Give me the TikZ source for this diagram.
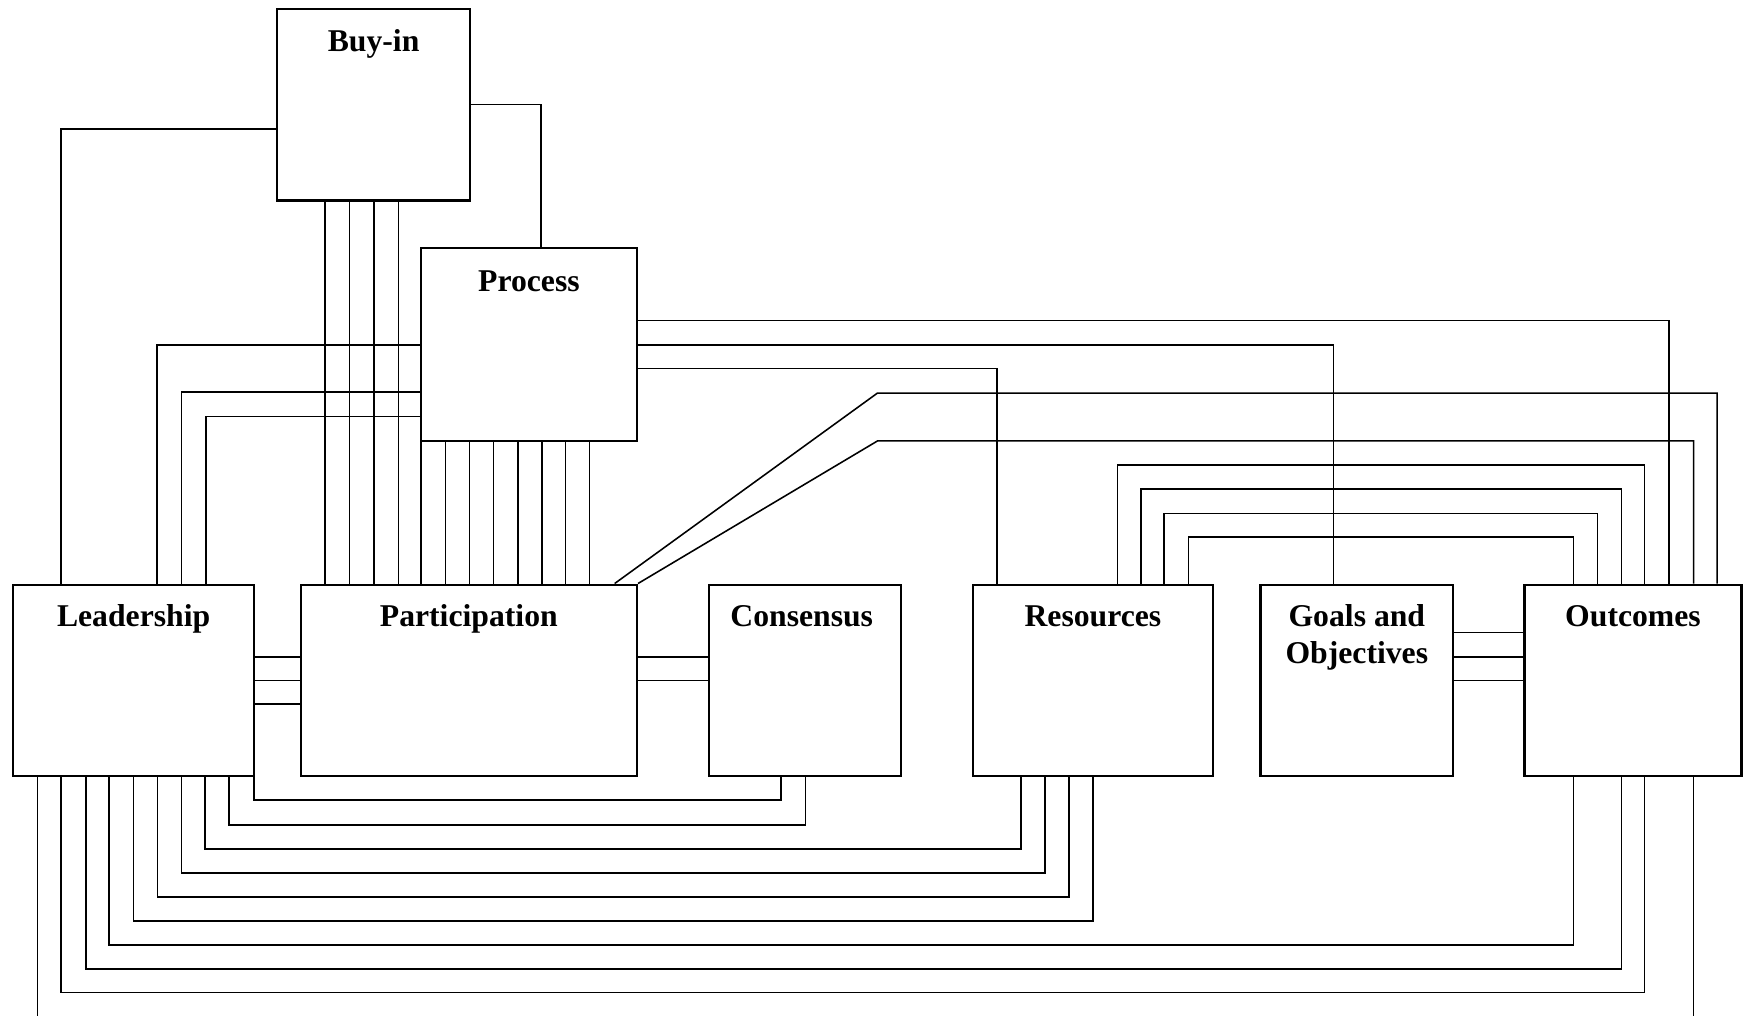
\documentclass[tikz,border=0pt]{standalone}
\usepackage{fontspec}
\setmainfont{Liberation Serif}
\usetikzlibrary{fit}
\tikzset{
  box/.style={draw, line width=1.1pt, inner sep=0pt},
  link/.style={line width=0.8pt},
  lbl/.style={font=\fontsize{16.2}{18.7}\selectfont\bfseries, anchor=base, inner sep=0pt},
}
\begin{document}
\begin{tikzpicture}[x=0.02cm, y=-0.02cm]
\useasboundingbox (0,0) rectangle (1568,912);

% the eight boxes
\node[box, fit={(249,8) (422,180)}] (buy) {};
\node[box, fit={(378,223) (572,396)}] (proc) {};
\node[box, fit={(12,525) (228,697)}] (lead) {};
\node[box, fit={(270,525) (572,697)}] (part) {};
\node[box, fit={(637,525) (809,697)}] (cons) {};
\node[box, fit={(874,525) (1089,697)}] (res) {};
\node[box, fit={(1132,525) (1305,697)}] (goal) {};
\node[box, fit={(1369,525) (1564,697)}] (out) {};

% titles
\node[lbl] (buyT)  at ([yshift=-0.78cm]buy.north)  {Buy-in};
\node[lbl] (procT) at ([yshift=-0.79cm]proc.north) {Process};
\node[lbl] (leadT) at ([yshift=-0.78cm]lead.north) {Leadership};
\node[lbl] (partT) at ([yshift=-0.78cm]part.north) {Participation};
\node[lbl] (consT) at ([yshift=-0.78cm,xshift=-0.06cm]cons.north) {Consensus};
\node[lbl] (resT)  at ([yshift=-0.78cm]res.north)  {Resources};
\node[lbl] (goalT1) at ([yshift=-0.77cm]goal.north) {Goals and};
\node[lbl] (goalT2) at ([yshift=-1.44cm]goal.north) {Objectives};
\node[lbl] (outT)  at ([yshift=-0.78cm]out.north)  {Outcomes};

% loose ends running off the bottom
\coordinate (leadEnd) at (33.5,912);
\coordinate (outEnd) at (1521,912);

\begin{scope}[link]
% Buy-in
\draw (buy.west |- 0,116) -| (lead.north -| 55,0);
\draw (buy.east |- 0,94) -| (proc.north -| 486,0);
\foreach \x in {292,314,336,358}
  \draw (buy.south -| \x,0) -- (part.north -| \x,0);

% Process
\foreach \x in {378,400,421.5,443,465,486.5,508,529.5}
  \draw (proc.south -| \x,0) -- (part.north -| \x,0);
\foreach \y/\x in {310/141,352/163,374/185}
  \draw (proc.west |- 0,\y) -| (lead.north -| \x,0);
\draw (proc.east |- 0,288) -| (out.north -| 1499,0);
\draw (proc.east |- 0,310) -| (goal.north -| 1197.5,0);
\draw (proc.east |- 0,331) -| (res.north -| 895.5,0);

% Participation to Outcomes
\draw (part.north -| 552,0) -- (788,353) -| (out.north -| 1542,0);
\draw (part.north east) -- (788,396) -| (out.north -| 1521,0);

% Resources to Outcomes
\foreach \a/\y/\b in {1003.5/417.5/1477,1024.5/439/1456,1045.5/461/1434.5,1067.5/482/1413}
  \draw (res.north -| \a,0) -- (\a,\y) -- (\b,\y) -- (out.north -| \b,0);

% side links
\foreach \y in {590,611,632}
  \draw (lead.east |- 0,\y) -- (part.west |- 0,\y);
\foreach \y in {590,611}
  \draw (part.east |- 0,\y) -- (cons.west |- 0,\y);
\foreach \y in {568,590,611}
  \draw (goal.east |- 0,\y) -- (out.west |- 0,\y);

% Leadership underneath
\foreach \a/\y/\b in {228/718.5/701.5,205.5/741/723.5}
  \draw (lead.south -| \a,0) -- (\a,\y) -- (\b,\y) -- (cons.south -| \b,0);
\foreach \a/\y/\b in {184/762.5/917,163/784/938.5,141.5/805.5/960,120/827/981.5}
  \draw (lead.south -| \a,0) -- (\a,\y) -- (\b,\y) -- (res.south -| \b,0);
\foreach \a/\y/\b in {98/848.5/1413,77/870/1456,55/891.5/1477}
  \draw (lead.south -| \a,0) -- (\a,\y) -- (\b,\y) -- (out.south -| \b,0);
\draw (lead.south -| leadEnd) -- (leadEnd);
\draw (out.south -| outEnd) -- (outEnd);
\end{scope}
\end{tikzpicture}
\end{document}
